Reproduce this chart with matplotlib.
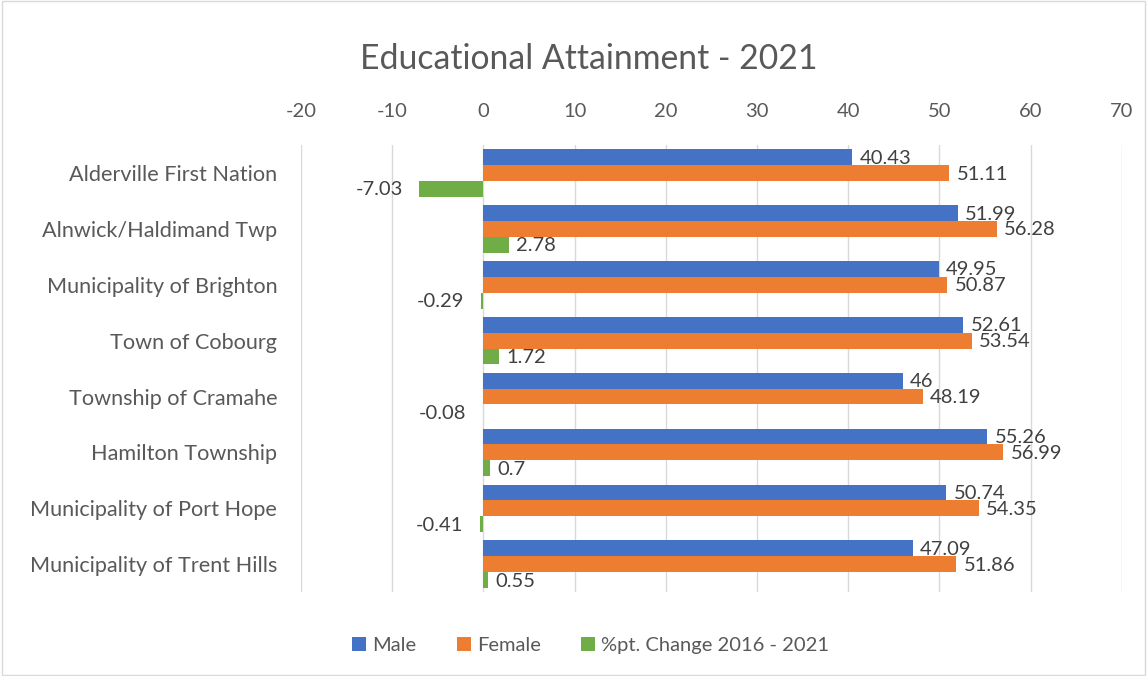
import matplotlib
matplotlib.use('Agg')
import matplotlib.pyplot as plt
import numpy as np
from matplotlib.patches import Rectangle

places = ["Alderville First Nation", "Alnwick/Haldimand Twp", "Municipality of Brighton",
          "Town of Cobourg", "Township of Cramahe", "Hamilton Township",
          "Municipality of Port Hope", "Municipality of Trent Hills"]
male = [40.43, 51.99, 49.95, 52.61, 46, 55.26, 50.74, 47.09]
female = [51.11, 56.28, 50.87, 53.54, 48.19, 56.99, 54.35, 51.86]
change = [-7.03, 2.78, -0.29, 1.72, -0.08, 0.7, -0.41, 0.55]

plt.rcParams['font.family'] = ['Lato', 'DejaVu Sans']
plt.rcParams['axes.unicode_minus'] = False
txt = '#595959'

fig = plt.figure(figsize=(11.47, 6.76), dpi=100)
ax = fig.add_axes([0.2624, 0.124, 0.7156, 0.6615])
fig.patches.append(Rectangle((0.002, 0.002), 0.996, 0.996, transform=fig.transFigure,
                             fill=False, edgecolor='#d9d9d9', linewidth=1))

y = np.arange(len(places))
h = 0.284
series = [(male, '#4472c4', 'Male', -h), (female, '#ed7d31', 'Female', 0),
          (change, '#70ad47', '%pt. Change 2016 - 2021', h)]
for vals, col, lab, off in series:
    ax.barh(y + off, vals, height=h, color=col, label=lab, zorder=3)
    for yi, v in zip(y, vals):
        s = f"{v:g}"
        if v >= 0:
            ax.text(v + 0.8, yi + off + 0.02, s, ha='left', va='center', fontsize=14.5, color='#404040')
        else:
            ax.text(v - 1.8, yi + off + 0.02, s, ha='right', va='center', fontsize=14.5, color='#404040')

ax.set_xlim(-20, 70)
ax.set_ylim(len(places) - 0.5, -0.5)
ax.set_xticks(np.arange(-20, 71, 10))
ax.xaxis.tick_top()
ax.set_yticks(y)
ax.set_yticklabels(places, fontsize=15.6)
ax.tick_params(axis='both', length=0, labelcolor=txt)
ax.tick_params(axis='x', labelsize=14.5, pad=18)
ax.tick_params(axis='y', pad=17)
ax.grid(axis='x', color='#d9d9d9', linewidth=1, zorder=0)
for sp in ax.spines.values():
    sp.set_visible(False)

fig.text(0.513, 0.913, "Educational Attainment - 2021", ha='center', va='center', fontsize=24.3, color=txt)
fig.legend(loc='center', bbox_to_anchor=(0.515, 0.045), ncol=3, frameon=False,
           fontsize=14.5, labelcolor=txt, handlelength=0.7, handleheight=0.7,
           handletextpad=0.3, columnspacing=2.0)

plt.savefig('out.png', dpi=100)
